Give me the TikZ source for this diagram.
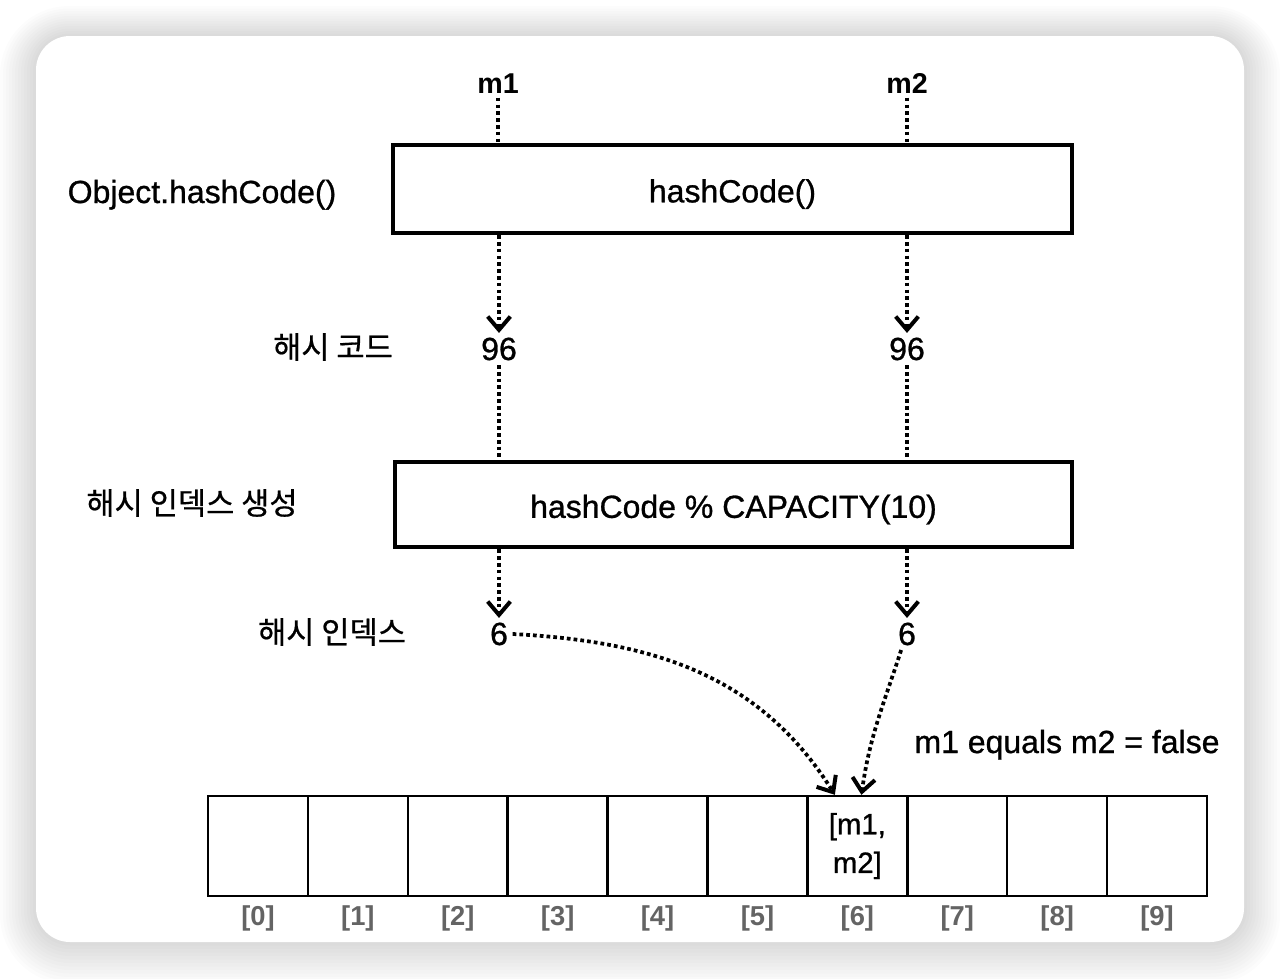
\documentclass[tikz,border=0pt]{standalone}
\usepackage{fontspec}
\setmainfont{Liberation Sans}[UprightFeatures={FakeBold=0.9}]
\newfontfamily\krfont{Noto Sans CJK KR}[FakeBold=0.6]
\usetikzlibrary{positioning,calc,arrows.meta}
\definecolor{idxgray}{RGB}{100,100,100}

\begin{document}
\begin{tikzpicture}[x=0.75pt,y=-0.75pt,font=\fontsize{24}{28}\selectfont,
  fnbox/.style={draw,line width=3.2pt,inner sep=0,align=center,text height=20pt,text depth=0pt},
  dotline/.style={line width=2.8pt,dash pattern=on 2.8pt off 2.3pt},
  dotarrow/.style={dotline,-{Straight Barb[length=10pt,width=17pt,line width=3pt]}},
  obj/.style={font=\bfseries\fontsize{21.5}{24}\selectfont,anchor=base},
  num/.style={anchor=base},
  kr/.style={font=\krfont\fontsize{23}{26}\selectfont},
  cell/.style={draw,line width=1.8pt,minimum width=74.9pt,minimum height=75pt,
               inner sep=0,align=center,font=\fontsize{22}{29}\selectfont},
  idx/.style={text=idxgray,font=\bfseries\fontsize{20.5}{24}\selectfont}]

  % ---- card ----
  \useasboundingbox (0,0) rectangle (1280,978);
  \fill[white] (0,0) rectangle (1280,978);
  \foreach \s in {1,...,12}
    \fill[black,opacity=0.011,rounded corners=25.5pt+\s*2.2pt]
      (36-\s*3,36-\s*2.5) rectangle (1244+\s*3,942+\s*3.5);
  \fill[white,rounded corners=25.5pt] (36,36) rectangle (1244,942);

  % ---- hashCode() ----
  \node[obj] (m1) at (498,93) {m1};
  \node[obj] (m2) at (907,93) {m2};
  \node[anchor=base] (objlbl) at (202,203) {Object.hashCode()};
  \node[fnbox,minimum width=509pt,minimum height=66pt] (hash) at (732.5,189) {hashCode()};
  \draw[dotline] (m1) -- (m1 |- hash.north);
  \draw[dotline] (m2) -- (m2 |- hash.north);

  % ---- hash code ----
  \node[kr] (codelbl) at (333,347) {해시 코드};
  \node[num] (code1) at (499,360) {96};
  \node[num] (code2) at (907,360) {96};
  \draw[dotarrow] (hash.south -| code1) -- (code1);
  \draw[dotarrow] (hash.south -| code2) -- (code2);

  % ---- index ----
  \node[kr] (genlbl) at (192,503) {해시 인덱스 생성};
  \node[fnbox,minimum width=508pt,minimum height=64pt] (idxbox) at (733.5,504.5)
    {hashCode \% CAPACITY(10)};
  \draw[dotline] (code1) -- (code1 |- idxbox.north);
  \draw[dotline] (code2) -- (code2 |- idxbox.north);

  \node[kr] (idxlbl) at (332,632) {해시 인덱스};
  \node[num] (i1) at (499,645) {6};
  \node[num] (i2) at (907,645) {6};
  \draw[dotarrow] (idxbox.south -| i1) -- (i1);
  \draw[dotarrow] (idxbox.south -| i2) -- (i2);

  % ---- array ----
  \foreach \i in {0,...,9}{
    \node[cell] (c\i) at (257.95+\i*99.9,846) {};
    \node[idx,below=3pt of c\i] (l\i) {[\i]};}
  \node[cell,draw=none] at (c6) {[m1,\\m2]};

  \node[anchor=base] (eqlbl) at (1067,753) {m1 equals m2 = false};

  \coordinate (t1) at ($(c6.north west)!0.28!(c6.north east)$);
  \coordinate (t2) at ($(c6.north west)!0.54!(c6.north east)$);
  \draw[dotarrow] (i1.east) to[out=-3,in=122] (t1);
  \draw[dotarrow] (i2.250) to[out=-108,in=82] (t2);

\end{tikzpicture}
\end{document}
